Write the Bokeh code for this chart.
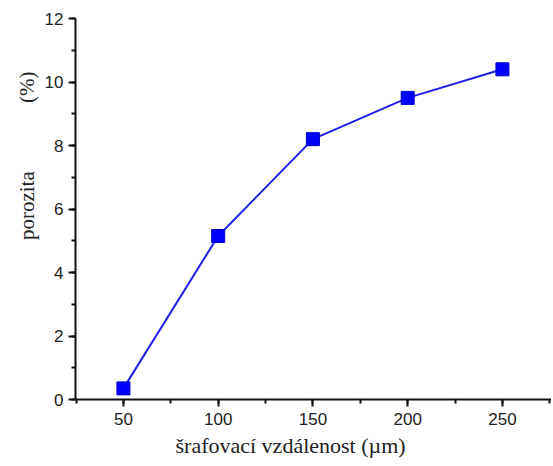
from bokeh.plotting import figure
from bokeh.models import SingleIntervalTicker, Range1d, Title
from bokeh.embed import file_html
from bokeh.resources import INLINE

# data
spacing_um = [50, 100, 150, 200, 250]
porosity_pct = [0.35, 5.15, 8.2, 9.5, 10.4]

x_label = "šrafovací vzdálenost (µm)"
y_label = "porozita" + "\u00a0" * 13 + "(%)"

p = figure(width=551, height=465, output_backend="svg", toolbar_location=None,
           x_range=Range1d(24.7, 275.9), y_range=Range1d(0, 12),
           min_border_left=75, min_border_right=0, min_border_top=18, min_border_bottom=66)
p.outline_line_color = None
p.xgrid.grid_line_color = None
p.ygrid.grid_line_color = None
p.background_fill_color = "white"
p.border_fill_color = "white"

p.xaxis.ticker = SingleIntervalTicker(interval=50, num_minor_ticks=2)
p.yaxis.ticker = SingleIntervalTicker(interval=2, num_minor_ticks=2)

for ax in (p.xaxis, p.yaxis):
    ax.axis_line_color = "#111111"
    ax.axis_line_width = 2
    ax.major_tick_line_color = "#111111"
    ax.major_tick_line_width = 2
    ax.minor_tick_line_color = "#111111"
    ax.minor_tick_line_width = 2
    ax.major_tick_in = 0
    ax.major_tick_out = 7
    ax.minor_tick_in = 0
    ax.minor_tick_out = 4
    ax.major_label_text_font = "Liberation Sans"
    ax.major_label_text_font_size = "17px"
    ax.major_label_text_color = "#222222"

p.xaxis.major_label_standoff = 6
p.yaxis.major_label_standoff = 5

p.line(spacing_um, porosity_pct, line_color="#1f1fe6", line_width=2)
p.scatter(spacing_um, porosity_pct, marker="square", size=13,
          fill_color="#0000ff", line_color="#0000cc", line_width=1)

p.add_layout(Title(text=y_label, align="right", offset=53, vertical_align="middle",
                   text_font="Liberation Serif", text_font_size="21px",
                   text_font_style="normal", text_color="#222222", standoff=4), "left")
p.add_layout(Title(text=x_label, align="left", offset=100, vertical_align="top",
                   text_font="Liberation Serif", text_font_size="22px",
                   text_font_style="normal", text_color="#222222", standoff=10), "below")

open("out.html", "w").write(file_html(p, INLINE))
